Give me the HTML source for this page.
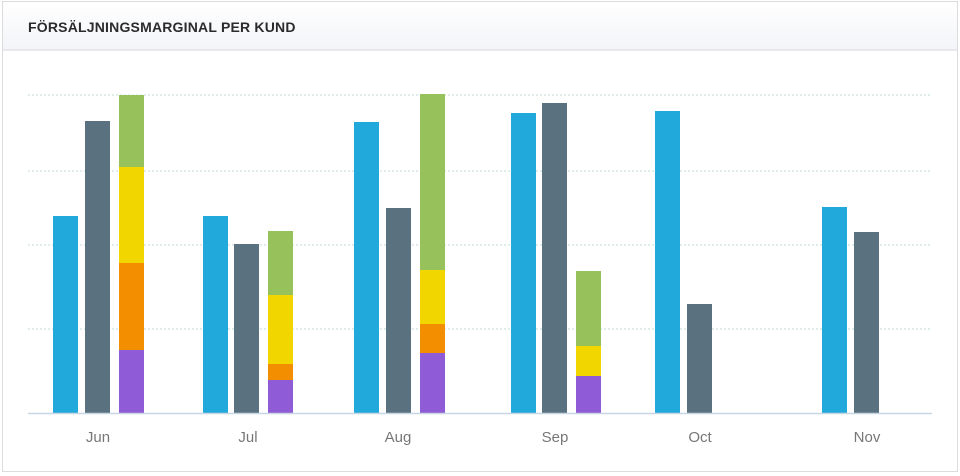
<!DOCTYPE html>
<html><head><meta charset="utf-8"><style>
html,body{margin:0;padding:0;background:#fff;width:960px;height:476px;overflow:hidden;font-family:"Liberation Sans",sans-serif}
</style></head><body>
<svg width="960" height="476" xmlns="http://www.w3.org/2000/svg">
<defs><linearGradient id="h" x1="0" y1="0" x2="0" y2="1"><stop offset="0" stop-color="#ffffff"/><stop offset="1" stop-color="#f3f4f8"/></linearGradient></defs>
<rect x="2.5" y="1.5" width="955" height="470" fill="#fff" stroke="#dcdcdc"/>
<rect x="3" y="2" width="954" height="48" fill="url(#h)"/>
<line x1="3" y1="50" x2="957" y2="50" stroke="#e2e4ea" stroke-width="1.5"/>
<text x="28" y="32" font-size="14" font-weight="bold" fill="#2b2b2b" letter-spacing="0.2">FÖRSÄLJNINGSMARGINAL PER KUND</text>
<g stroke="#bfdcd8" stroke-dasharray="2,2" stroke-width="1">
<line x1="28" y1="95" x2="930" y2="95"/><line x1="28" y1="171" x2="930" y2="171"/><line x1="28" y1="245" x2="930" y2="245"/><line x1="28" y1="329" x2="930" y2="329"/>
</g>
<g>
<rect x="53" y="216" width="25" height="197" fill="#22a9db"/>
<rect x="85" y="121" width="25" height="292" fill="#5a7280"/>
<rect x="119" y="95" width="25" height="72" fill="#97c15b"/>
<rect x="119" y="167" width="25" height="96" fill="#f2d600"/>
<rect x="119" y="263" width="25" height="87" fill="#f28e00"/>
<rect x="119" y="350" width="25" height="63" fill="#8f5bd6"/>

<rect x="203" y="216" width="25" height="197" fill="#22a9db"/>
<rect x="234" y="244" width="25" height="169" fill="#5a7280"/>
<rect x="268" y="231" width="25" height="64" fill="#97c15b"/>
<rect x="268" y="295" width="25" height="69" fill="#f2d600"/>
<rect x="268" y="364" width="25" height="16" fill="#f28e00"/>
<rect x="268" y="380" width="25" height="33" fill="#8f5bd6"/>

<rect x="354" y="122" width="25" height="291" fill="#22a9db"/>
<rect x="386" y="208" width="25" height="205" fill="#5a7280"/>
<rect x="420" y="94" width="25" height="176" fill="#97c15b"/>
<rect x="420" y="270" width="25" height="54" fill="#f2d600"/>
<rect x="420" y="324" width="25" height="29" fill="#f28e00"/>
<rect x="420" y="353" width="25" height="60" fill="#8f5bd6"/>

<rect x="511" y="113" width="25" height="300" fill="#22a9db"/>
<rect x="542" y="103" width="25" height="310" fill="#5a7280"/>
<rect x="576" y="271" width="25" height="75" fill="#97c15b"/>
<rect x="576" y="346" width="25" height="30" fill="#f2d600"/>
<rect x="576" y="376" width="25" height="37" fill="#8f5bd6"/>

<rect x="655" y="111" width="25" height="302" fill="#22a9db"/>
<rect x="687" y="304" width="25" height="109" fill="#5a7280"/>

<rect x="822" y="207" width="25" height="206" fill="#22a9db"/>
<rect x="854" y="232" width="25" height="181" fill="#5a7280"/>
</g>
<line x1="28" y1="413.5" x2="932" y2="413.5" stroke="#c8d6e2" stroke-width="1.5"/>
<g font-size="15" fill="#777" text-anchor="middle">
<text x="98" y="442">Jun</text><text x="248" y="442">Jul</text><text x="398" y="442">Aug</text>
<text x="555" y="442">Sep</text><text x="700" y="442">Oct</text><text x="867" y="442">Nov</text>
</g>
</svg>
</body></html>
